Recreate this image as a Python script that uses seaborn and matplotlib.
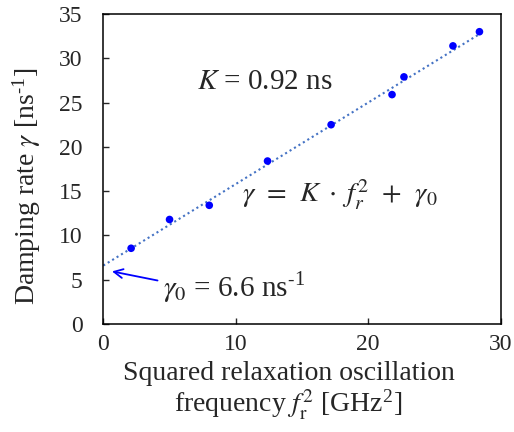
import numpy as np
import pandas as pd
import matplotlib
matplotlib.use("Agg")
import matplotlib.pyplot as plt
import seaborn as sns

# ---- data ----
fr2 = [2.1, 5.0, 8.0, 12.4, 17.2, 21.8, 22.7, 26.4, 28.4]
gamma = [8.55, 11.8, 13.4, 18.4, 22.5, 25.9, 27.9, 31.4, 33.0]
K = 0.92
gamma0 = 6.6
xticks = [0, 10, 20, 30]
yticks = [0, 5, 10, 15, 20, 25, 30, 35]

sns.set_theme(style="ticks")
plt.rcParams["font.family"] = ["Liberation Serif", "DejaVu Serif"]
plt.rcParams["mathtext.fontset"] = "stix"

df = pd.DataFrame({"x": fr2, "y": gamma})
fit_x = np.array([0.0, max(fr2)])
fit = pd.DataFrame({"x": fit_x, "y": K * fit_x + gamma0})

fig = plt.figure(figsize=(5.14, 4.32), dpi=100)
ax = fig.add_axes([0.201, 0.25, 0.773, 0.7176])

sns.lineplot(data=fit, x="x", y="y", ax=ax, color="#4472C4", lw=1.5,
             linestyle=(0, (1, 1.5)), zorder=2)
sns.scatterplot(data=df, x="x", y="y", ax=ax, color="#0000FF", s=30,
                edgecolor="none", zorder=3)

ax.set_xlim(0, 30)
ax.set_ylim(0, 35)
ax.set_xticks(xticks)
ax.set_yticks(yticks)
ax.tick_params(axis="x", direction="in", length=4, width=1, pad=7, labelsize=17)
ax.tick_params(axis="y", direction="in", length=4, width=1, pad=15, labelsize=17)
for s in ax.spines.values():
    s.set_linewidth(1.1)
    s.set_color("black")

ax.set_xlabel("Squared relaxation oscillation\nfrequency $f_{\\mathrm{r}}^{2}$ [GHz$^{\\mathregular{2}}$]",
              fontsize=20, linespacing=1.05)
ax.set_ylabel("Damping rate $\\gamma$ [ns$^{\\mathregular{\\text{-}1}}$]", fontsize=20)
ax.xaxis.set_label_coords(0.466, -0.12, transform=ax.transAxes)
ax.xaxis.label.set_va("top")
ax.yaxis.set_label_coords(-0.152, 0.445, transform=ax.transAxes)

ax.text(7.1, 27.3, "$K$ = 0.92 ns", fontsize=21, va="center", ha="left")
ax.text(10.5, 14.6, r"$\gamma\;\,=\;\,K\;\cdot\;f_r^2\;\,+\;\,\gamma_0$", fontsize=20.5,
        va="center", ha="left")
ax.text(4.5, 4.0, r"$\gamma_0$ = 6.6 ns$^{\mathregular{\text{-}1}}$", fontsize=21,
        va="center", ha="left")
ax.annotate("", xy=(0.45, 6.0), xytext=(4.3, 4.85),
            arrowprops=dict(arrowstyle="->", color="#0000FF", lw=1.3,
                            mutation_scale=16))

fig.savefig("out.png", dpi=100)
